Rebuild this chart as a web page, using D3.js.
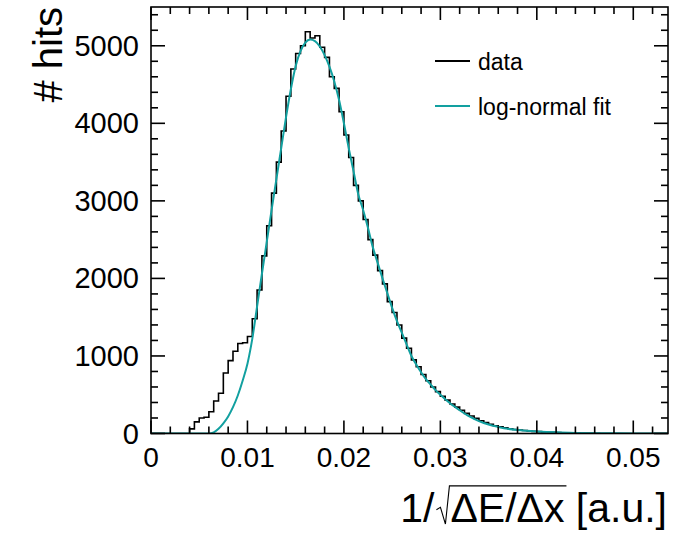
<!DOCTYPE html>
<html>
<head>
<meta charset="utf-8">
<script src="https://cdn.jsdelivr.net/npm/d3@7"></script>
<style>
body { margin: 0; background: #fff; }
text { font-family: "Liberation Sans", Arial, sans-serif; fill: #000; }
</style>
</head>
<body>
<svg id="chart" width="692" height="535"></svg>
<script>
'use strict';

// histogram of the data, fixed-width bins starting at dataBinStart
var dataBinStart = 0.0035;
var dataBinWidth = 0.0005;
var dataCounts = [
  0, 60, 150, 200, 210, 280, 420, 520, 780, 940,
  1060, 1160, 1170, 1250, 1480, 1850, 2290, 2680, 3100, 3500,
  3900, 4350, 4700, 4900, 5000, 5180, 5100, 5130, 4980, 4850,
  4600, 4450, 4150, 3850, 3560, 3200, 3000, 2760, 2500, 2300,
  2100, 1930, 1700, 1560, 1400, 1230, 1100, 950, 860, 760,
  680, 600, 540, 480, 430, 380, 340, 300, 260, 225,
  195, 165, 140, 120, 100, 85, 72, 62, 52, 45,
  38, 33, 28, 24, 20, 17, 14, 12, 10, 8,
  6, 5, 4, 3, 2, 2
];

var fitX = [0, 0.006, 0.0065, 0.007, 0.0075, 0.008, 0.0085, 0.009, 0.0095, 0.010,
  0.0105, 0.011, 0.0115, 0.012, 0.0125, 0.013, 0.0135, 0.014, 0.0145, 0.015,
  0.0155, 0.016, 0.0165, 0.017, 0.0175, 0.018, 0.0185, 0.019, 0.0195, 0.020,
  0.0205, 0.021, 0.0215, 0.022, 0.0225, 0.023, 0.0235, 0.024, 0.0245, 0.025,
  0.0255, 0.026, 0.0265, 0.027, 0.0275, 0.028, 0.0285, 0.029, 0.0295, 0.030,
  0.031, 0.032, 0.033, 0.034, 0.035, 0.036, 0.037, 0.038, 0.039, 0.040,
  0.042, 0.044, 0.046, 0.050, 0.0536];
var fitY = [0, 0, 15, 60, 130, 220, 340, 490, 680, 900,
  1220, 1640, 2060, 2470, 2880, 3280, 3680, 4080, 4440, 4740,
  4930, 5040, 5080, 5060, 4990, 4880, 4730, 4540, 4300, 4000,
  3680, 3380, 3080, 2880, 2650, 2400, 2200, 2000, 1810, 1620,
  1450, 1300, 1150, 1000, 890, 790, 700, 630, 560, 500,
  390, 300, 220, 160, 115, 85, 60, 45, 35, 27,
  15, 8, 4, 1, 0];

var xRange = [0, 0.0536];
var yRange = [0, 5500];
var xMajor = [0, 0.01, 0.02, 0.03, 0.04, 0.05];
var xLabels = ["0", "0.01", "0.02", "0.03", "0.04", "0.05"];
var yMajor = [0, 1000, 2000, 3000, 4000, 5000];
var yLabels = ["0", "1000", "2000", "3000", "4000", "5000"];
var legendNames = ["data", "log-normal fit"];

var fitColor = "#12a0a0";

var frameL = 151, frameR = 668, frameT = 7, frameB = 433.5;

var svg = d3.select("#chart");

var x = d3.scaleLinear().domain(xRange).range([frameL, frameR]);
var y = d3.scaleLinear().domain(yRange).range([frameB, frameT]);

svg.append("clipPath").attr("id", "frameClip")
  .append("rect")
  .attr("x", frameL).attr("y", frameT - 2)
  .attr("width", frameR - frameL).attr("height", frameB - frameT + 2);

// data histogram as a step line
var histPts = [[xRange[0], 0]];
dataCounts.forEach(function (c, i) {
  histPts.push([dataBinStart + i * dataBinWidth, c]);
});
histPts.push([dataBinStart + dataCounts.length * dataBinWidth, 0]);
histPts.push([xRange[1], 0]);

var stepLine = d3.line()
  .x(function (d) { return x(d[0]); })
  .y(function (d) { return y(d[1]); })
  .curve(d3.curveStepAfter);

var plot = svg.append("g").attr("clip-path", "url(#frameClip)");

plot.append("path")
  .datum(histPts)
  .attr("d", stepLine)
  .attr("fill", "none")
  .attr("stroke", "#000")
  .attr("stroke-width", 1.6);

var fitLine = d3.line()
  .x(function (d) { return x(d[0]); })
  .y(function (d) { return y(d[1]); })
  .curve(d3.curveMonotoneX);

plot.append("path")
  .datum(fitX.map(function (v, i) { return [v, fitY[i]]; }))
  .attr("d", fitLine)
  .attr("fill", "none")
  .attr("stroke", fitColor)
  .attr("stroke-width", 2);

// frame and ticks (ROOT style: ticks on all four sides)
var xMinor = d3.range(0, 0.0535, 0.002);
var yMinor = d3.range(0, 5401, 200);

var axisG = svg.append("g")
  .attr("stroke", "#000")
  .attr("stroke-width", 1.6)
  .attr("fill", "none");

axisG.append("rect")
  .attr("x", frameL).attr("y", frameT)
  .attr("width", frameR - frameL).attr("height", frameB - frameT);

xMinor.forEach(function (v) {
  var isMajor = Math.abs(Math.round(v * 100) - v * 100) < 1e-6;
  var len = isMajor ? 13 : 7;
  axisG.append("line").attr("x1", x(v)).attr("x2", x(v))
    .attr("y1", frameB).attr("y2", frameB - len);
  axisG.append("line").attr("x1", x(v)).attr("x2", x(v))
    .attr("y1", frameT).attr("y2", frameT + len);
});

yMinor.forEach(function (v) {
  var isMajor = v % 1000 === 0;
  var len = isMajor ? 14 : 7;
  axisG.append("line").attr("x1", frameL).attr("x2", frameL + len)
    .attr("y1", y(v)).attr("y2", y(v));
  axisG.append("line").attr("x1", frameR).attr("x2", frameR - len)
    .attr("y1", y(v)).attr("y2", y(v));
});

// tick labels
svg.append("g").selectAll("text")
  .data(xMajor)
  .enter().append("text")
  .attr("x", function (d) { return x(d); })
  .attr("y", 467)
  .attr("text-anchor", "middle")
  .style("font-size", "28px")
  .text(function (d, i) { return xLabels[i]; });

svg.append("g").selectAll("text")
  .data(yMajor)
  .enter().append("text")
  .attr("x", 139)
  .attr("y", function (d) { return y(d) + 10; })
  .attr("text-anchor", "end")
  .style("font-size", "29px")
  .text(function (d, i) { return yLabels[i]; });

// y title
svg.append("text")
  .attr("transform", "translate(62,7) rotate(-90)")
  .attr("text-anchor", "end")
  .style("font-size", "40px")
  .text("# hits");

// x title: 1/sqrt(dE/dx) [a.u.]
var tg = svg.append("g");
var fs = 41;
var t1 = tg.append("text").attr("x", 0).attr("y", 0).style("font-size", fs + "px").text("1/");
var w1 = t1.node().getComputedTextLength();
var sqW = 16;
var t2 = tg.append("text").attr("x", w1 + sqW).attr("y", 0).style("font-size", fs + "px").text("\u0394E/\u0394x");
var w2 = t2.node().getComputedTextLength();
var t3 = tg.append("text").attr("x", w1 + sqW + w2).attr("y", 0).style("font-size", fs + "px").text("\u00a0[a.u.]");
var w3 = t3.node().getComputedTextLength();
var ovY = -fs * 0.88;
tg.append("path")
  .attr("d", "M" + (w1 + 2) + "," + (-fs * 0.3) +
    " L" + (w1 + 6) + "," + (-fs * 0.36) +
    " L" + (w1 + 11) + "," + (fs * 0.05) +
    " L" + (w1 + sqW - 1) + "," + ovY +
    " L" + (w1 + sqW + w2 + 2) + "," + ovY)
  .attr("fill", "none")
  .attr("stroke", "#000")
  .attr("stroke-width", 1.1);
tg.attr("transform", "translate(" + (667 - (w1 + sqW + w2 + w3)) + ",522)");

// legend
var legend = svg.append("g");
var legendColors = ["#000", fitColor];
var legendY = [61, 106];
legendNames.forEach(function (name, i) {
  legend.append("line")
    .attr("x1", 435).attr("x2", 470)
    .attr("y1", legendY[i]).attr("y2", legendY[i])
    .attr("stroke", legendColors[i])
    .attr("stroke-width", 1.8);
  legend.append("text")
    .attr("x", 478).attr("y", legendY[i] + 9)
    .style("font-size", "23px")
    .text(name);
});
</script>
</body>
</html>
